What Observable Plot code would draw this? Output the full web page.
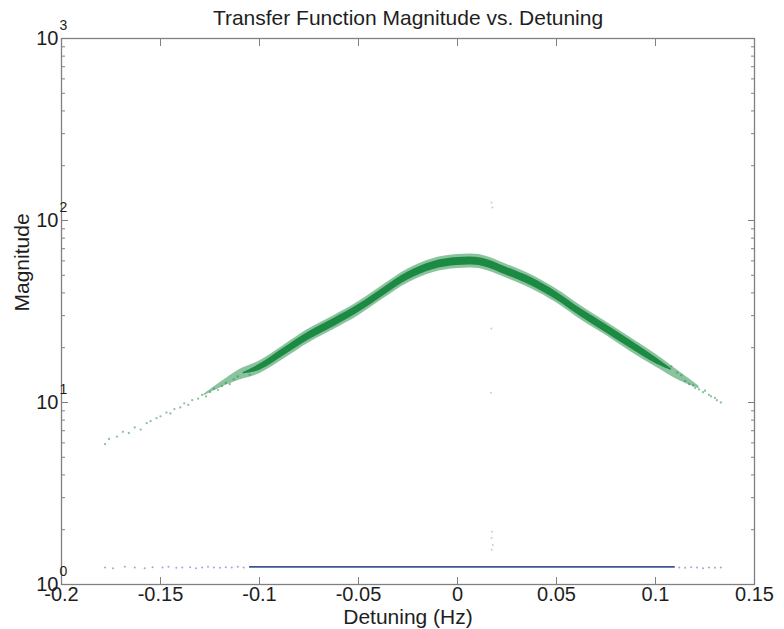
<!DOCTYPE html>
<html><head><meta charset="utf-8">
<script src="https://cdn.jsdelivr.net/npm/d3@7"></script>
<script src="https://cdn.jsdelivr.net/npm/@observablehq/plot@0.6"></script>
<style>body{margin:0;background:#fff;}</style>
</head><body><div id="chart"></div>
<script>
// ---- Data ----
const xTicks = [-0.2, -0.15, -0.1, -0.05, 0, 0.05, 0.1, 0.15];
const xTickLabels = ["-0.2", "-0.15", "-0.1", "-0.05", "0", "0.05", "0.1", "0.15"];
const yMajor = [1, 10, 100, 1000];
const yExponents = ["0", "1", "2", "3"];
const yMinor = [2,3,4,5,6,7,8,9,20,30,40,50,60,70,80,90,200,300,400,500,600,700,800,900];

// Green band (transfer function magnitude): loose outer envelope of the scatter
const greenOuterX  = [-0.128, -0.118, -0.11, -0.1, -0.0875, -0.075, -0.0625, -0.05, -0.0375, -0.025, -0.0125, 0, 0.0125, 0.025, 0.0375, 0.05, 0.0625, 0.075, 0.0875, 0.1, 0.112, 0.122];
const greenOuterLo = [10.9, 12.3, 13.3, 14.4, 17.4, 21.3, 25.2, 30.0, 37.1, 45.3, 51.7, 54.5, 54.0, 48.1, 42.1, 35.3, 28.4, 23.4, 19.0, 15.7, 13.2, 11.9];
const greenOuterHi = [11.1, 13.3, 15.2, 16.9, 20.7, 25.4, 30.0, 35.8, 44.2, 54.1, 61.7, 65.0, 64.4, 57.3, 50.2, 42.0, 33.9, 27.8, 22.7, 18.5, 14.8, 12.3];
// dense core of the scatter
const greenInnerX  = [-0.108, -0.1, -0.0875, -0.075, -0.0625, -0.05, -0.0375, -0.025, -0.0125, 0, 0.0125, 0.025, 0.0375, 0.05, 0.0625, 0.075, 0.0875, 0.1, 0.108];
const greenInnerLo = [14.4, 15.0, 18.1, 22.1, 26.1, 31.2, 38.5, 47.1, 53.7, 56.6, 56.1, 49.9, 43.7, 36.6, 29.5, 24.2, 19.8, 16.4, 15.0];
const greenInnerHi = [14.6, 16.2, 20.0, 24.5, 28.9, 34.5, 42.6, 52.1, 59.4, 62.6, 62.1, 55.2, 48.4, 40.5, 32.6, 26.8, 21.9, 17.7, 15.3];

// Sparse green tails
const greenTailX = [-0.178, -0.176, -0.172, -0.169, -0.166, -0.163, -0.16, -0.157, -0.155, -0.152, -0.15, -0.147, -0.145, -0.143, -0.14, -0.138, -0.136, -0.134, -0.131, -0.129, -0.127, -0.125, -0.123, -0.121, -0.119, -0.117, -0.115, -0.113, -0.111, -0.108, -0.105,
                    0.108, 0.111, 0.113, 0.115, 0.117, 0.119, 0.12, 0.122, 0.124, 0.125, 0.127, 0.128, 0.13, 0.131, 0.133];
const greenTailY = [5.9, 6.3, 6.5, 6.9, 6.8, 7.3, 7.1, 7.7, 7.9, 8.2, 8.4, 8.8, 8.7, 9.2, 9.4, 9.9, 9.7, 10.3, 10.5, 11.0, 10.8, 11.4, 11.9, 11.7, 12.3, 12.8, 12.6, 13.4, 13.9, 14.6, 14.2,
                    15.8, 14.6, 14.1, 13.1, 12.6, 12.4, 12.0, 11.8, 11.4, 11.6, 11.0, 10.8, 10.6, 10.3, 10.0];

// Blue band (near unity magnitude)
const blueX  = [-0.105, 0.11];
const blueLo = [1.228, 1.228];
const blueHi = [1.255, 1.255];
const blueTailX = [-0.178, -0.174, -0.168, -0.163, -0.158, -0.154, -0.149, -0.146, -0.142, -0.139, -0.135, -0.132, -0.129, -0.126, -0.123, -0.12, -0.117, -0.114, -0.111, -0.108,
                   0.112, 0.115, 0.118, 0.121, 0.124, 0.127, 0.13, 0.133];
const blueTailY = [1.24, 1.23, 1.25, 1.24, 1.23, 1.245, 1.24, 1.25, 1.235, 1.24, 1.245, 1.23, 1.24, 1.25, 1.24, 1.235, 1.245, 1.24, 1.25, 1.24,
                   1.24, 1.235, 1.245, 1.24, 1.23, 1.24, 1.235, 1.24];

// Faint spurious points near 0.017 Hz
const strayX = [0.0172, 0.0176, 0.0171, 0.0169, 0.0175, 0.0172, 0.0178, 0.0173];
const strayY = [125, 118, 25.5, 11.3, 1.95, 1.8, 1.65, 1.55];

// ---- Build tables ----
const greenOuter = greenOuterX.map((x, i) => ({x, lo: greenOuterLo[i], hi: greenOuterHi[i]}));
const greenInner = greenInnerX.map((x, i) => ({x, lo: greenInnerLo[i], hi: greenInnerHi[i]}));
const greenTail = greenTailX.map((x, i) => ({x, y: greenTailY[i]}));
const blueBand = blueX.map((x, i) => ({x, lo: blueLo[i], hi: blueHi[i]}));
const blueTail = blueTailX.map((x, i) => ({x, y: blueTailY[i]}));
const stray = strayX.map((x, i) => ({x, y: strayY[i]}));
const yLabels = yMajor.map((v, i) => ({v, e: yExponents[i]}));

const GREEN = "#17873f";
const BLUE = "#2b3f8f";
const AX = "#808080";
const TXT = "#1e1e1e";
const noLabel = () => "";

const chart = Plot.plot({
  width: 784,
  height: 629,
  marginLeft: 61,
  marginRight: 30,
  marginTop: 38,
  marginBottom: 45,
  style: {fontFamily: "'Liberation Sans', Arial, Helvetica, sans-serif", background: "#fff"},
  x: {domain: [-0.2, 0.15], label: null},
  y: {type: "log", domain: [1, 1000], label: null},
  marks: [
    Plot.areaY(greenOuter, {x: "x", y1: "lo", y2: "hi", fill: GREEN, fillOpacity: 0.5, curve: "catmull-rom"}),
    Plot.areaY(greenInner, {x: "x", y1: "lo", y2: "hi", fill: GREEN, fillOpacity: 0.95, curve: "catmull-rom"}),
    Plot.dot(greenTail, {x: "x", y: "y", r: 1.15, fill: GREEN, fillOpacity: 0.5, stroke: null}),
    Plot.areaY(blueBand, {x: "x", y1: "lo", y2: "hi", fill: BLUE, fillOpacity: 0.9}),
    Plot.dot(blueTail, {x: "x", y: "y", r: 1, fill: BLUE, fillOpacity: 0.45, stroke: null}),
    Plot.dot(stray, {x: "x", y: "y", r: 1, fill: "#aaaaaa", fillOpacity: 0.6, stroke: null}),
    Plot.frame({stroke: AX, strokeWidth: 1.3}),
    Plot.axisX(xTicks, {anchor: "bottom", tickSize: -7, tickPadding: 9, stroke: AX, fill: TXT, fontSize: 20,
      tickFormat: d => xTickLabels[xTicks.indexOf(d)], label: null}),
    Plot.axisX(xTicks, {anchor: "top", tickSize: -7, stroke: AX, tickFormat: noLabel, label: null}),
    Plot.axisY(yMajor, {anchor: "left", tickSize: -7, stroke: AX, tickFormat: noLabel, label: null}),
    Plot.axisY(yMajor, {anchor: "right", tickSize: -7, stroke: AX, tickFormat: noLabel, label: null}),
    Plot.axisY(yMinor, {anchor: "left", tickSize: -4, stroke: AX, tickFormat: noLabel, label: null}),
    Plot.axisY(yMinor, {anchor: "right", tickSize: -4, stroke: AX, tickFormat: noLabel, label: null}),
    Plot.text(yLabels, {frameAnchor: "left", y: "v", text: () => "10", textAnchor: "end", dx: -3, fontSize: 20, fill: TXT}),
    Plot.text(yLabels, {frameAnchor: "left", y: "v", text: "e", textAnchor: "start", dx: -2, dy: -13, fontSize: 14, fill: TXT}),
    Plot.text(["Transfer Function Magnitude vs. Detuning"], {frameAnchor: "top", lineAnchor: "middle", text: d => d, dy: -20, fontSize: 21, fill: TXT}),
    Plot.text(["Detuning (Hz)"], {frameAnchor: "bottom", lineAnchor: "middle", text: d => d, dy: 33, fontSize: 21, fill: TXT}),
    Plot.text(["Magnitude"], {frameAnchor: "left", text: d => d, rotate: -90, dx: -39, fontSize: 21, fill: TXT})
  ]
});
document.getElementById("chart").appendChild(chart);
</script>
</body></html>
